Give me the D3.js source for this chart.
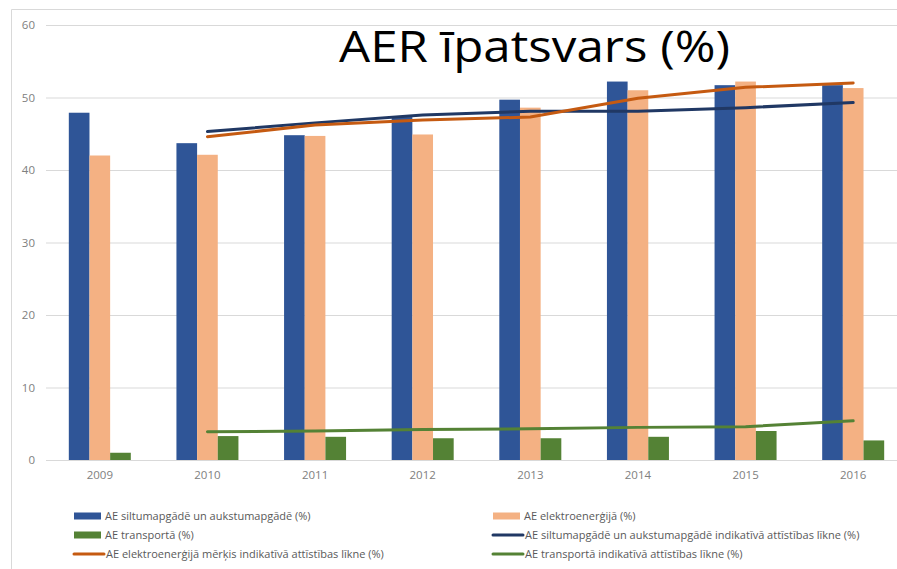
<!DOCTYPE html>
<html><head><meta charset="utf-8">
<script src="https://cdn.jsdelivr.net/npm/d3@7"></script>
<style>body{margin:0;background:#fff}svg{display:block}</style>
</head><body>
<svg id="c" width="897" height="569"></svg>
<script>
const years = ["2009","2010","2011","2012","2013","2014","2015","2016"];
const heatBars = [47.9, 43.7, 44.8, 47.3, 49.7, 52.2, 51.7, 51.7];
const elecBars = [42.0, 42.1, 44.7, 44.9, 48.6, 51.0, 52.2, 51.3];
const transBars = [1.0, 3.3, 3.2, 3.0, 3.0, 3.2, 4.0, 2.7];
const lineYears = ["2010","2011","2012","2013","2014","2015","2016"];
const heatLine = [45.3, 46.5, 47.6, 48.1, 48.1, 48.6, 49.3];
const elecLine = [44.6, 46.2, 46.9, 47.3, 49.9, 51.4, 52.0];
const transLine = [3.9, 4.0, 4.2, 4.3, 4.5, 4.6, 5.4];
const yTicks = [0, 10, 20, 30, 40, 50, 60];
const titleText = "AER īpatsvars (%)";
const legendItems = [
  {label:"AE siltumapgādē un aukstumapgādē (%)", type:"bar", color:"#2F5597"},
  {label:"AE elektroenerģijā (%)", type:"bar", color:"#F4B183"},
  {label:"AE transportā (%)", type:"bar", color:"#548235"},
  {label:"AE siltumapgādē un aukstumapgādē indikatīvā attīstības līkne (%)", type:"line", color:"#203864"},
  {label:"AE elektroenerģijā mērķis indikatīvā attīstības līkne (%)", type:"line", color:"#C55A11"},
  {label:"AE transportā indikatīvā attīstības līkne (%)", type:"line", color:"#548235"}
];

(function(){
const svg = d3.select("#c");
const font = "'Open Sans', sans-serif";
const pLeft = 46, pRight = 907, pTop = 25, pBottom = 460;

svg.append("path").attr("d","M11.5,569 V9.5 H897").attr("fill","none").attr("stroke","#d9d9d9").attr("stroke-width",1);

const x = d3.scaleBand().domain(years).range([pLeft, pRight]).paddingInner(0).paddingOuter(0);
const y = d3.scaleLinear().domain([0, 60]).range([pBottom, pTop]);

const yAxis = d3.axisLeft(y).tickValues(yTicks).tickSize(-(pRight-pLeft)).tickPadding(11);
const gy = svg.append("g").attr("transform",`translate(${pLeft},0)`).call(yAxis);
gy.select(".domain").remove();
gy.selectAll(".tick line").attr("stroke","#d9d9d9").attr("stroke-width",1);
gy.selectAll(".tick text").attr("fill","#808080").attr("font-size",11.5).attr("font-family",font);

const xAxis = d3.axisBottom(x).tickSize(0).tickPadding(11);
const gx = svg.append("g").attr("transform",`translate(0,${pBottom})`).call(xAxis);
gx.select(".domain").attr("stroke","#d9d9d9");
gx.selectAll(".tick text").attr("fill","#808080").attr("font-size",11.5).attr("font-family",font);

const bw = x.bandwidth();
const sub = d3.scaleBand().domain([0,1,2]).range([bw/2 - 31, bw/2 + 31]);
const series = [heatBars, elecBars, transBars];
const barColors = ["#2F5597","#F4B183","#548235"];
series.forEach((arr, i) => {
  svg.append("g").selectAll("rect").data(arr).join("rect")
    .attr("x", (d, j) => x(years[j]) + sub(i))
    .attr("width", sub.bandwidth())
    .attr("y", d => y(d))
    .attr("height", d => y(0) - y(d))
    .attr("fill", barColors[i]);
});

const line = d3.line().x((d, j) => x(lineYears[j]) + bw/2).y(d => y(d));
[[heatLine,"#203864"],[elecLine,"#C55A11"],[transLine,"#548235"]].forEach(([arr,c]) => {
  svg.append("path").datum(arr).attr("d", line).attr("fill","none")
    .attr("stroke", c).attr("stroke-width", 3).attr("stroke-linecap","round");
});

svg.append("text").attr("x", 339).attr("y", 62).attr("textLength", 391).attr("lengthAdjust","spacingAndGlyphs")
  .attr("font-family", font).attr("font-size", 44).attr("fill","#000").text(titleText);

const colX = [74, 493], rowY = [516, 535, 554];
legendItems.forEach((it, i) => {
  const cx = colX[i % 2], cy = rowY[Math.floor(i / 2)];
  if (it.type === "bar") {
    svg.append("rect").attr("x", cx).attr("y", cy - 3.5).attr("width", 27).attr("height", 7).attr("fill", it.color);
  } else {
    svg.append("line").attr("x1", cx).attr("x2", cx + 30).attr("y1", cy).attr("y2", cy)
      .attr("stroke", it.color).attr("stroke-width", 3).attr("stroke-linecap","round");
  }
  svg.append("text").attr("x", cx + (it.type === "bar" ? 31 : 32)).attr("y", cy).attr("dy","0.35em")
    .attr("font-family", font).attr("font-size", 11).attr("fill","#595959").text(it.label);
});
})();
</script>
</body></html>
